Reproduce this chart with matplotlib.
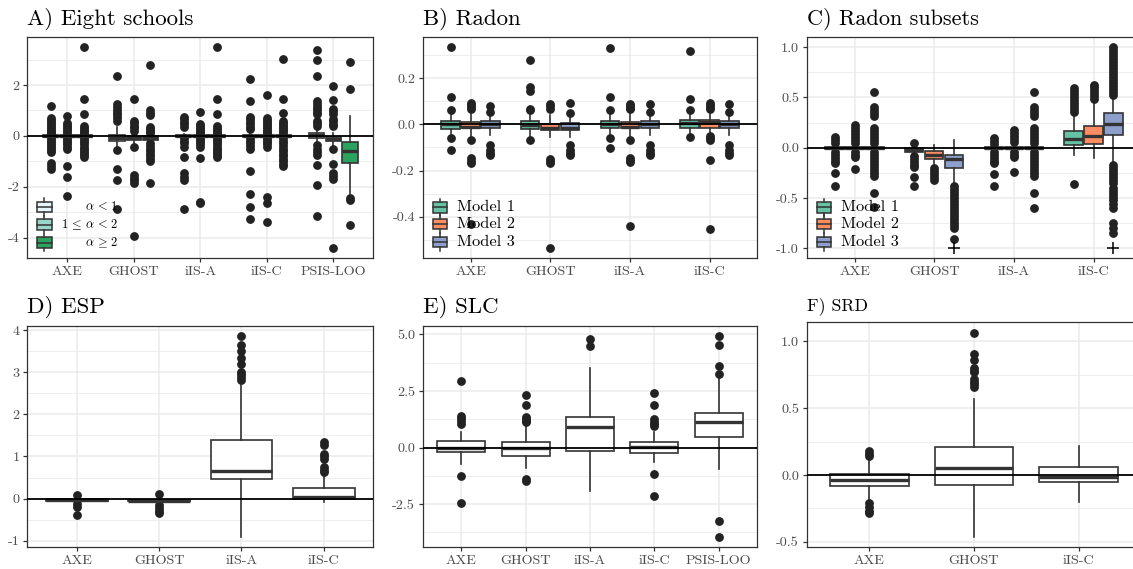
import numpy as np
import matplotlib
matplotlib.use("Agg")
import matplotlib.pyplot as plt
from matplotlib.patches import Rectangle
from matplotlib.ticker import AutoMinorLocator

plt.rcParams['font.family'] = 'cmr10'
plt.rcParams['mathtext.fontset'] = 'cm'
plt.rcParams['axes.unicode_minus'] = False
plt.rcParams['axes.formatter.use_mathtext'] = True

FIG_W, FIG_H, DPI = 11.33, 5.69, 100

## A) Eight schools: 5 methods x 3 alpha groups
A_methods = ["AXE", "GHOST", "iIS-A", "iIS-C", "PSIS-LOO"]
A_groups = [r"$\alpha\,{<}\,1$", r"$1\,{\leq}\,\alpha\,{<}\,2$", r"$\alpha\,{\geq}\,2$"]
A_colors = ["#E5F5F9", "#99D8C9", "#2CA25F"]
A_q1 = [[-0.04, -0.22, -0.04, -0.03, -0.10],
        [-0.04, -0.17, -0.04, -0.04, -0.20],
        [-0.04, -0.17, -0.04, -0.04, -1.06]]
A_med = [[0.00, -0.10, -0.01, 0.00, 0.02],
         [0.00, -0.08, 0.00, 0.00, -0.12],
         [0.00, -0.10, 0.00, 0.00, -0.59]]
A_q3 = [[0.04, 0.02, 0.04, 0.04, 0.12],
        [0.04, 0.00, 0.04, 0.04, -0.04],
        [0.04, 0.00, 0.04, 0.04, -0.23]]
A_lo = [[-0.10, -0.42, -0.08, -0.08, -0.30],
        [-0.08, -0.35, -0.08, -0.08, -0.40],
        [-0.08, -0.25, -0.08, -0.08, -2.30]]
A_hi = [[0.10, 0.35, 0.08, 0.08, 0.30],
        [0.08, 0.15, 0.08, 0.08, 0.10],
        [0.08, 0.08, 0.08, 0.08, 0.77]]
A_fliers = [
    [[1.16, 0.72, 0.64, 0.56, 0.48, 0.40, 0.32, 0.24, 0.16, 0.10, -0.10, -0.16, -0.24, -0.32, -0.40, -0.48, -0.56, -0.62, -1.08, -1.20, -1.30],
     [2.34, 1.24, 1.12, 1.00, 0.90, 0.80, 0.70, 0.60, -0.56, -1.32, -1.72, -2.87],
     [0.73, 0.65, 0.55, 0.45, 0.35, -0.10, -0.20, -0.30, -0.43, -0.82, -1.48, -1.62, -1.74, -2.87],
     [2.22, 1.37, 0.73, 0.65, 0.55, 0.45, 0.35, 0.25, -0.10, -0.20, -0.30, -0.40, -0.50, -1.37, -2.29, -2.81, -3.28],
     [3.39, 2.97, 2.34, 1.35, 1.25, 1.15, 1.05, 0.95, 0.85, 0.60, 0.50, 0.40, -0.37, -0.50, -0.62, -0.75, -1.14, -1.93, -3.15]],
    [[0.77, 0.50, 0.42, 0.34, 0.26, 0.18, 0.10, -0.10, -0.18, -0.26, -0.34, -0.42, -0.50, -1.20, -1.60, -2.37],
     [1.44, 0.60, 0.50, 0.40, 0.30, 0.20, -0.43, -1.55, -1.65, -1.75, -1.85, -3.93],
     [0.93, 0.48, 0.40, 0.32, 0.24, 0.16, 0.10, -0.10, -0.18, -0.26, -0.34, -0.43, -0.89, -2.60, -2.66],
     [1.59, 0.72, 0.64, 0.56, 0.48, 0.40, 0.32, 0.24, 0.16, 0.10, -0.10, -0.18, -0.26, -0.34, -0.42, -2.40, -2.63, -3.37],
     [1.96, 1.40, 1.07, 0.97, 0.87, 0.68, 0.58, 0.48, 0.38, -0.50, -1.09, -1.45, -1.58, -1.71, -4.42]],
    [[3.49, 1.43, 0.84, 0.40, 0.32, 0.24, 0.16, 0.10, -0.10, -0.18, -0.26, -0.34, -0.42, -0.50, -0.58, -0.66, -0.74, -0.82],
     [2.77, 1.00, 0.90, 0.80, 0.35, 0.27, 0.19, 0.11, -0.30, -0.40, -0.50, -0.60, -0.70, -0.80, -0.90, -1.00, -1.87],
     [3.49, 1.43, 0.84, 0.40, 0.32, 0.24, 0.16, 0.10, -0.10, -0.18, -0.26, -0.34, -0.42, -0.50, -0.58, -0.66, -0.74, -0.82],
     [3.03, 1.43, 0.88, 0.60, 0.52, 0.44, 0.36, 0.28, 0.20, 0.12, -0.10, -0.20, -0.30, -0.40, -0.50, -0.60, -0.70, -0.80, -0.90, -1.00, -1.10, -1.20],
     [2.90, 1.86, -2.46, -2.52, -3.50]],
]

## B) Radon: 4 methods x 3 models
B_methods = ["AXE", "GHOST", "iIS-A", "iIS-C"]
B_groups = ["Model 1", "Model 2", "Model 3"]
B_colors = ["#66C2A5", "#FC8D62", "#8DA0CB"]
B_q1 = [[-0.019, -0.021, -0.018, -0.015],
        [-0.016, -0.026, -0.016, -0.014],
        [-0.016, -0.026, -0.016, -0.014]]
B_med = [[0.002, -0.005, 0.002, 0.004],
         [-0.010, -0.017, -0.010, 0.010],
         [0.001, -0.014, 0.003, 0.003]]
B_q3 = [[0.014, 0.013, 0.014, 0.017],
        [0.012, 0.000, 0.012, 0.017],
        [0.014, 0.006, 0.014, 0.014]]
B_lo = [[-0.045, -0.050, -0.045, -0.040],
        [-0.050, -0.055, -0.050, -0.040],
        [-0.047, -0.055, -0.047, -0.047]]
B_hi = [[0.045, 0.050, 0.045, 0.045],
        [0.045, 0.040, 0.045, 0.045],
        [0.045, 0.040, 0.045, 0.045]]
B_fliers = [
    [[0.334, 0.117, 0.060, -0.061, -0.111],
     [0.280, 0.163, 0.146, 0.067, 0.060, -0.069],
     [0.330, 0.117, 0.060, -0.061, -0.101],
     [0.317, 0.111, 0.060, -0.057]],
    [[0.090, 0.082, 0.074, 0.067, -0.066, -0.147, -0.158, -0.169, -0.433],
     [0.086, 0.078, 0.067, -0.150, -0.160, -0.169, -0.536],
     [0.088, 0.080, 0.072, 0.065, -0.066, -0.147, -0.155, -0.165, -0.440],
     [0.090, 0.082, 0.074, 0.067, -0.050, -0.060, -0.070, -0.154, -0.451]],
    [[0.077, 0.053, -0.090, -0.110, -0.124, -0.133],
     [0.091, 0.050, -0.090, -0.110, -0.124, -0.133],
     [0.086, 0.053, -0.090, -0.110, -0.124, -0.133],
     [0.086, 0.053, -0.090, -0.110, -0.124, -0.133]],
]

## C) Radon subsets
C_methods = ["AXE", "GHOST", "iIS-A", "iIS-C"]
C_groups = ["Model 1", "Model 2", "Model 3"]
C_colors = ["#66C2A5", "#FC8D62", "#8DA0CB"]
C_q1 = [[-0.01, -0.045, -0.01, 0.026],
        [-0.01, -0.110, -0.01, 0.033],
        [-0.01, -0.200, -0.01, 0.130]]
C_med = [[0.0, -0.020, 0.0, 0.082],
         [0.0, -0.070, 0.0, 0.115],
         [0.0, -0.115, 0.0, 0.234]]
C_q3 = [[0.01, 0.000, 0.01, 0.165],
        [0.01, -0.030, 0.01, 0.214],
        [0.01, -0.070, 0.01, 0.340]]
C_lo = [[-0.03, -0.060, -0.03, -0.070],
        [-0.03, -0.180, -0.03, -0.105],
        [-0.03, -0.370, -0.03, -0.155]]
C_hi = [[0.03, 0.030, 0.03, 0.320],
        [0.03, 0.026, 0.03, 0.460],
        [0.03, 0.076, 0.03, 0.490]]
C_fliers = [
    [[0.11, 0.08, 0.05, -0.04, -0.07, -0.10, -0.13, -0.15, -0.25, -0.385],
     [0.05, -0.08, -0.11, -0.14, -0.17, -0.19, -0.29, -0.385],
     [0.10, 0.07, 0.04, -0.04, -0.07, -0.10, -0.13, -0.15, -0.26, -0.385],
     [0.35, 0.38, 0.41, 0.44, 0.47, 0.50, 0.53, 0.56, 0.59, -0.36]],
    [[0.23, 0.20, 0.17, 0.14, 0.11, 0.08, 0.05, -0.04, -0.07, -0.09, -0.21],
     [-0.20, -0.23, -0.26, -0.29, -0.32],
     [0.18, 0.15, 0.12, 0.09, 0.06, -0.04, -0.07, -0.09, -0.24],
     [0.48, 0.51, 0.54, 0.57, 0.60, 0.62]],
    [[0.55, 0.40, 0.37, 0.34, 0.31, 0.20, 0.17, 0.14, 0.11, 0.08, 0.05, -0.04, -0.07, -0.10, -0.13, -0.16, -0.19, -0.22, -0.25, -0.28, -0.45, -0.59],
     [-0.38, -0.41, -0.44, -0.47, -0.50, -0.53, -0.56, -0.59, -0.62, -0.65, -0.68, -0.71, -0.74, -0.77, -0.80, -0.91],
     [0.55, 0.40, 0.37, 0.34, 0.31, 0.20, 0.17, 0.14, 0.11, 0.08, 0.05, -0.04, -0.07, -0.10, -0.13, -0.16, -0.19, -0.22, -0.25, -0.28, -0.45, -0.60],
     [1.00, 0.97, 0.94, 0.91, 0.88, 0.85, 0.82, 0.79, 0.76, 0.73, 0.70, 0.67, 0.64, 0.61, 0.58, 0.55, 0.52,
      -0.17, -0.20, -0.23, -0.26, -0.29, -0.32, -0.35, -0.40, -0.43, -0.46, -0.49, -0.52, -0.56, -0.60, -0.75, -0.80, -0.85]],
]
# values clipped at the lower limit, drawn as "+": (method, model, value)
C_clipped = [(1, 2, -1.0), (3, 2, -1.0)]

## D) ESP
D_methods = ["AXE", "GHOST", "iIS-A", "iIS-C"]
D_q1 = [-0.055, -0.060, 0.457, 0.000]
D_med = [-0.040, -0.050, 0.647, 0.035]
D_q3 = [-0.020, -0.030, 1.395, 0.260]
D_lo = [-0.070, -0.070, -0.920, -0.080]
D_hi = [0.000, 0.000, 2.800, 0.600]
D_fliers = [[0.08, -0.04, -0.12, -0.20, -0.39],
            [0.11, -0.16, -0.22, -0.30, -0.35],
            [2.83, 2.90, 2.95, 3.00, 3.20, 3.35, 3.50, 3.66, 3.87],
            [0.62, 0.68, 0.75, 0.95, 1.00, 1.06, 1.28, 1.34]]

## E) SLC
E_methods = ["AXE", "GHOST", "iIS-A", "iIS-C", "PSIS-LOO"]
E_q1 = [-0.20, -0.35, -0.16, -0.23, 0.45]
E_med = [-0.01, 0.00, 0.92, 0.04, 1.11]
E_q3 = [0.28, 0.23, 1.37, 0.26, 1.54]
E_lo = [-0.72, -0.90, -1.92, -0.64, -0.96]
E_hi = [0.67, 1.00, 3.52, 0.67, 3.04]
E_fliers = [[2.94, 1.40, 1.30, 1.18, 1.05, -1.26, -2.44],
            [2.31, 1.87, 1.33, 1.25, 1.18, 1.11, -1.40, -1.49],
            [4.81, 4.50],
            [2.43, 1.87, 1.26, 1.15, 1.05, 0.96, -1.15, -2.15],
            [4.94, 4.55, 3.60, 3.27, -3.25, -3.96]]

## F) SRD
F_methods = ["AXE", "GHOST", "iIS-C"]
F_q1 = [-0.082, -0.074, -0.052]
F_med = [-0.037, 0.055, -0.012]
F_q3 = [0.007, 0.208, 0.057]
F_lo = [-0.200, -0.464, -0.204]
F_hi = [0.130, 0.570, 0.218]
F_fliers = [[0.18, 0.16, 0.14, -0.21, -0.24, -0.27, -0.285],
            [1.067, 0.91, 0.86, 0.80, 0.78, 0.77, 0.72, 0.70, 0.68, 0.66],
            []]

EDGE = '#333333'


def px_rect(left, top, right, bottom):
    W, H = FIG_W * DPI, FIG_H * DPI
    return [left / W, (H - bottom) / H, (right - left) / W, (bottom - top) / H]


def make_stats(q1, med, q3, lo, hi, fl):
    return [dict(q1=a, med=b, q3=c, whislo=d, whishi=e, fliers=f)
            for a, b, c, d, e, f in zip(q1, med, q3, lo, hi, fl)]


def draw_panel(ax, methods, q1, med, q3, lo, hi, fl, colors, width, yticks, fmt,
               title, tsize):
    n_groups = len(q1)
    pos = np.arange(1, len(methods) + 1)
    offsets = (np.arange(n_groups) - (n_groups - 1) / 2) * 0.25
    allv = []
    for g in range(n_groups):
        st = make_stats(q1[g], med[g], q3[g], lo[g], hi[g], fl[g])
        for s in st:
            allv += [s['whislo'], s['whishi']] + list(s['fliers'])
        ax.bxp(st, positions=pos + offsets[g], widths=width, patch_artist=True,
               showcaps=False, manage_ticks=False, zorder=2,
               boxprops=dict(facecolor=colors[g], edgecolor=EDGE, linewidth=1.2),
               medianprops=dict(color=EDGE, linewidth=2.4),
               whiskerprops=dict(color=EDGE, linewidth=1.2),
               flierprops=dict(marker='o', markerfacecolor='#222222',
                               markeredgecolor='#222222', markersize=5.3))
    lo_v, hi_v = min(allv), max(allv)
    span = hi_v - lo_v
    ax.set_ylim(lo_v - 0.05 * span, hi_v + 0.05 * span)
    ax.set_xlim(0.4, len(methods) + 0.6)
    ax.axhline(0, color='black', lw=1.3, zorder=4)

    ax.set_xticks(pos, methods)
    ax.set_yticks(yticks, [fmt.format(t) for t in yticks])
    ax.yaxis.set_minor_locator(AutoMinorLocator(2))
    ax.set_axisbelow(True)
    ax.grid(which='major', color='#EBEBEB', lw=1.1)
    ax.grid(which='minor', axis='y', color='#EBEBEB', lw=0.6)
    ax.tick_params(which='major', length=3, width=0.9, color=EDGE,
                   labelcolor='#4D4D4D', labelsize=10.2, pad=2.5)
    ax.tick_params(which='minor', length=0)
    for sp in ax.spines.values():
        sp.set_color(EDGE)
        sp.set_linewidth(0.9)
    ax.set_title(title, loc='left', fontsize=tsize, pad=9)
    return pos, offsets


def draw_legend(ax, labels, colors, key_x, key_y, text_x, ha, size):
    bb = ax.get_position()
    wpx = bb.width * FIG_W * DPI
    hpx = bb.height * FIG_H * DPI
    kw, kh, ws = 14.5 / wpx, 10.5 / hpx, 3.5 / hpx
    for lab, col, y in zip(labels, colors, key_y):
        ax.add_patch(Rectangle((key_x - kw / 2, y - kh / 2), kw, kh,
                               transform=ax.transAxes, facecolor=col,
                               edgecolor=EDGE, lw=1.1, zorder=6))
        ax.plot([key_x - kw / 2, key_x + kw / 2], [y, y], transform=ax.transAxes,
                color=EDGE, lw=1.1, zorder=7)
        ax.plot([key_x, key_x], [y + kh / 2, y + kh / 2 + ws], transform=ax.transAxes,
                color=EDGE, lw=1.1, zorder=7)
        ax.plot([key_x, key_x], [y - kh / 2 - ws, y - kh / 2], transform=ax.transAxes,
                color=EDGE, lw=1.1, zorder=7)
        ax.text(text_x, y, lab, transform=ax.transAxes, ha=ha, va='center',
                fontsize=size, zorder=7)


def main():
    fig = plt.figure(figsize=(FIG_W, FIG_H), dpi=DPI)
    axA = fig.add_axes(px_rect(27.3, 37, 373.3, 258.3))
    axB = fig.add_axes(px_rect(422.7, 37, 757.3, 258.3))
    axC = fig.add_axes(px_rect(806.7, 37, 1141.3, 258.3))
    axD = fig.add_axes(px_rect(27.3, 325.7, 373.3, 547.3))
    axE = fig.add_axes(px_rect(422.7, 325.7, 757.3, 547.3))
    axF = fig.add_axes(px_rect(806.7, 322.3, 1141.3, 547.3))

    draw_panel(axA, A_methods, A_q1, A_med, A_q3, A_lo, A_hi, A_fliers, A_colors,
               0.23, [-4, -2, 0, 2], "{:g}", "A) Eight schools", 16.5)
    draw_legend(axA, A_groups, A_colors, 0.0497, [0.232, 0.1525, 0.071], 0.262,
                'right', 9.0)

    draw_panel(axB, B_methods, B_q1, B_med, B_q3, B_lo, B_hi, B_fliers, B_colors,
               0.23, [-0.4, -0.2, 0.0, 0.2], "{:.1f}", "B) Radon", 16.5)
    draw_legend(axB, B_groups, B_colors, 0.051, [0.23, 0.155, 0.074], 0.1016,
                'left', 11.8)

    pos, offs = draw_panel(axC, C_methods, C_q1, C_med, C_q3, C_lo, C_hi, C_fliers,
                           C_colors, 0.23, [-1.0, -0.5, 0.0, 0.5, 1.0], "{:.1f}",
                           "C) Radon subsets", 16)
    for m, g, v in C_clipped:
        axC.plot(pos[m] + offs[g], v, marker='+', ms=9, mew=1.1, color='black', zorder=5)
    axC.set_ylim(-1.1, 1.1)
    draw_legend(axC, C_groups, C_colors, 0.051, [0.23, 0.155, 0.074], 0.1016,
                'left', 11.8)

    draw_panel(axD, D_methods, [D_q1], [D_med], [D_q3], [D_lo], [D_hi], [D_fliers],
               ['white'], 0.75, [-1, 0, 1, 2, 3, 4], "{:g}", "D) ESP", 16.5)
    draw_panel(axE, E_methods, [E_q1], [E_med], [E_q3], [E_lo], [E_hi], [E_fliers],
               ['white'], 0.75, [-2.5, 0.0, 2.5, 5.0], "{:.1f}", "E) SLC", 16.5)
    draw_panel(axF, F_methods, [F_q1], [F_med], [F_q3], [F_lo], [F_hi], [F_fliers],
               ['white'], 0.75, [-0.5, 0.0, 0.5, 1.0], "{:.1f}", "F) SRD", 12.8)

    fig.savefig("out.png", dpi=DPI)


if __name__ == "__main__":
    main()
